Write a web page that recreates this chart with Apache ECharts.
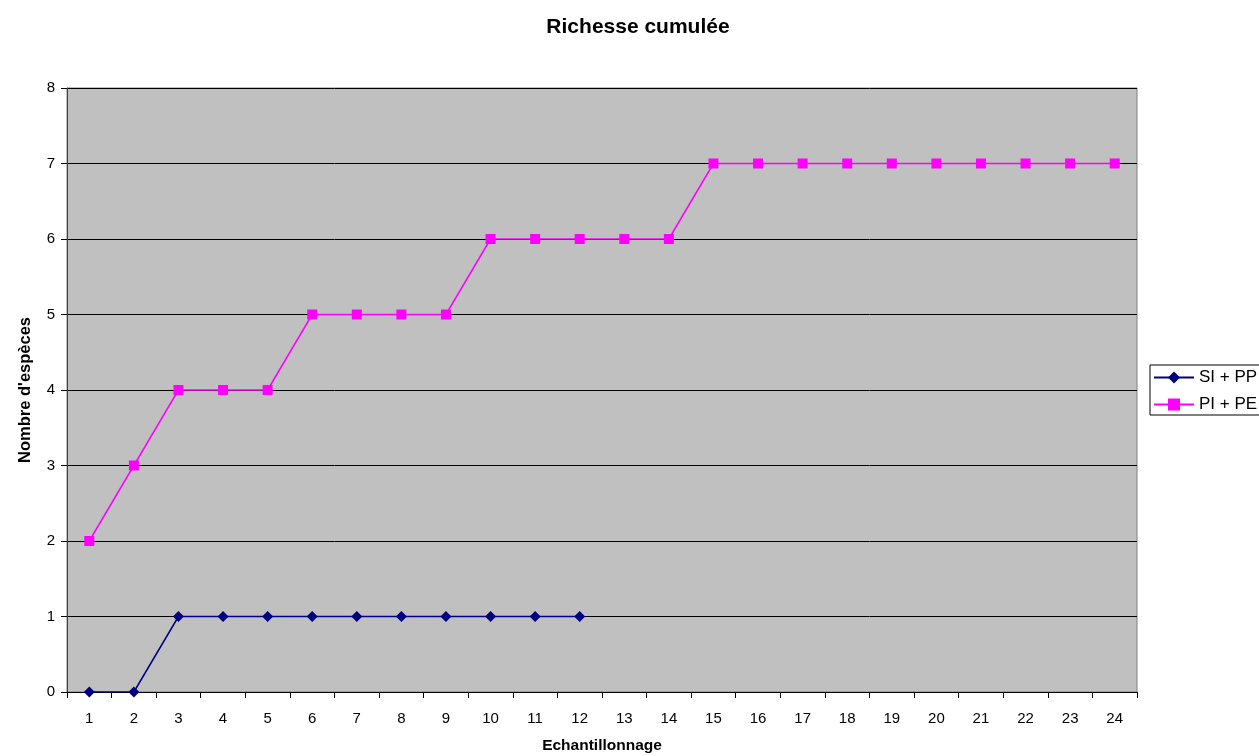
<!DOCTYPE html>
<html>
<head>
<meta charset="utf-8">
<script src="https://cdn.jsdelivr.net/npm/echarts@6/dist/echarts.min.js"></script>
<style>
html,body{margin:0;padding:0;background:#fff;}
#c{width:1259px;height:756px;}
</style>
</head>
<body>
<div id="c"></div>
<script>
const categories = ['1','2','3','4','5','6','7','8','9','10','11','12','13','14','15','16','17','18','19','20','21','22','23','24'];
const siPP = [0,0,1,1,1,1,1,1,1,1,1,1];
const piPE = [2,3,4,4,4,5,5,5,5,6,6,6,6,6,7,7,7,7,7,7,7,7,7,7];
const yTicks = [0,1,2,3,4,5,6,7,8];

const chart = echarts.init(document.getElementById('c'));
const font = 'Liberation Sans, Arial, sans-serif';
chart.setOption({
  animation: false,
  textStyle: {fontFamily: font},
  title: {
    text: 'Richesse cumulée',
    left: 633, top: 12, textAlign: 'center',
    textStyle: {fontFamily: font, fontSize: 21, fontWeight: 'bold', color: '#000'}
  },
  grid: {
    left: 67, right: 122, top: 88, bottom: 64,
    outerBoundsMode: 'none', containLabel: false,
    show: true, backgroundColor: '#c0c0c0', borderColor: '#808080', borderWidth: 1
  },
  legend: {
    orient: 'vertical', left: 1150, top: 365,
    data: ['SI + PP', 'PI + PE'],
    borderColor: '#000', borderWidth: 1, padding: [4, 20, 2, 3],
    itemWidth: 40, itemHeight: 15, itemGap: 10,
    textStyle: {fontFamily: font, fontSize: 17, color: '#000'}
  },
  xAxis: {
    type: 'category', data: categories, boundaryGap: true,
    name: 'Echantillonnage', nameLocation: 'middle', nameGap: 46,
    nameTextStyle: {fontFamily: font, fontSize: 15.5, fontWeight: 'bold', color: '#000'},
    axisLine: {lineStyle: {color: '#000', width: 1}},
    axisTick: {show: true, length: 6, alignWithLabel: false, lineStyle: {color: '#000'}},
    axisLabel: {fontFamily: font, fontSize: 15, color: '#000', margin: 19, interval: 0},
    splitLine: {show: false}
  },
  yAxis: {
    type: 'value', min: 0, max: 8, interval: 1,
    name: "Nombre d'espèces", nameLocation: 'middle', nameGap: 33,
    nameTextStyle: {fontFamily: font, fontSize: 16.5, fontWeight: 'bold', color: '#000'},
    axisLine: {show: true, lineStyle: {color: '#404040', width: 1}},
    axisTick: {show: true, length: 6, lineStyle: {color: '#000'}},
    axisLabel: {fontFamily: font, fontSize: 15, color: '#000', margin: 12,
      formatter: v => yTicks.includes(v) ? String(v) : ''},
    splitLine: {show: true, lineStyle: {color: '#000', width: 1}}
  },
  series: [
    {
      name: 'SI + PP', type: 'line', data: siPP,
      symbol: 'diamond', symbolSize: 11, showAllSymbol: true,
      itemStyle: {color: '#000080'}, lineStyle: {color: '#000080', width: 1.5}
    },
    {
      name: 'PI + PE', type: 'line', data: piPE,
      symbol: 'rect', symbolSize: 10, showAllSymbol: true,
      itemStyle: {color: '#ff00ff'}, lineStyle: {color: '#ff00ff', width: 1.5}
    }
  ]
});
</script>
</body>
</html>
